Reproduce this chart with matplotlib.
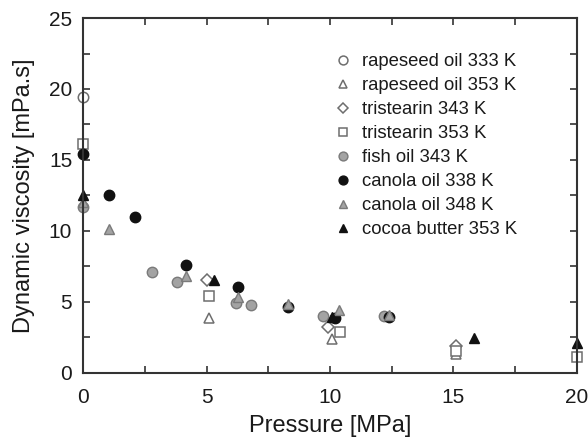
import matplotlib
matplotlib.use("Agg")
import matplotlib.pyplot as plt
from matplotlib.ticker import MultipleLocator

plt.rcParams['font.family'] = ['Liberation Sans', 'DejaVu Sans']

# Data (pressure MPa, viscosity mPa.s)
rape333_x = [0.0]
rape333_y = [19.4]
rape353_x = [5.1, 10.1, 15.1]
rape353_y = [3.85, 2.35, 1.35]
tri343_x = [5.0, 9.9, 15.1]
tri343_y = [6.5, 3.2, 1.9]
tri353_x = [0.0, 5.1, 10.4, 15.1, 20.0]
tri353_y = [16.1, 5.4, 2.85, 1.55, 1.1]
fish343_x = [0.0, 2.8, 3.8, 6.2, 6.8, 9.7, 12.2]
fish343_y = [11.65, 7.1, 6.4, 4.9, 4.75, 4.0, 4.0]
can338_x = [0.0, 1.05, 2.1, 4.15, 6.25, 8.3, 10.2, 12.4]
can338_y = [15.45, 12.55, 10.95, 7.6, 6.05, 4.6, 3.85, 3.9]
can348_x = [0.0, 1.05, 4.15, 6.25, 8.3, 10.35, 12.4]
can348_y = [12.0, 10.15, 6.85, 5.3, 4.85, 4.4, 4.05]
cocoa353_x = [0.0, 5.3, 10.1, 15.85, 20.0]
cocoa353_y = [12.55, 6.55, 3.9, 2.45, 2.1]

labels = ['rapeseed oil 333 K', 'rapeseed oil 353 K', 'tristearin 343 K',
          'tristearin 353 K', 'fish oil 343 K', 'canola oil 338 K',
          'canola oil 348 K', 'cocoa butter 353 K']

fig = plt.figure(figsize=(5.88, 4.40), dpi=100)
ax = fig.add_axes([0.1417, 0.153, 0.8391, 0.806])

openc = dict(mfc='white', mec='#6e6e6e', mew=1.1)
grayc = dict(mfc='#a3a3a3', mec='#7a7a7a', mew=1.0)
blackc = dict(mfc='#111111', mec='#111111', mew=1.0)
ms = 7.5

series = [
    (rape333_x, rape333_y, 'o', openc, ms),
    (rape353_x, rape353_y, '^', openc, ms),
    (tri343_x, tri343_y, 'D', openc, ms * 0.75),
    (tri353_x, tri353_y, 's', openc, ms * 0.9),
    (fish343_x, fish343_y, 'o', grayc, ms),
    (can338_x, can338_y, 'o', blackc, ms),
    (can348_x, can348_y, '^', grayc, ms),
    (cocoa353_x, cocoa353_y, '^', blackc, ms),
]
for (x, y, m, st, s), lab in zip(series, labels):
    ax.plot(x, y, linestyle='none', marker=m, ms=s, label=lab, clip_on=False, **st)

ax.set_xlim(0, 20)
ax.set_ylim(0, 25)
ax.xaxis.set_major_locator(MultipleLocator(5))
ax.xaxis.set_minor_locator(MultipleLocator(2.5))
ax.yaxis.set_major_locator(MultipleLocator(5))
ax.yaxis.set_minor_locator(MultipleLocator(2.5))
ax.tick_params(which='both', direction='in', top=True, right=True,
               length=5, width=1.2, color='#333333')
ax.tick_params(which='major', labelsize=15, labelcolor='#1a1a1a')
ax.tick_params(axis='x', which='major', pad=11)
ax.tick_params(axis='y', which='major', pad=8)
for sp in ax.spines.values():
    sp.set_linewidth(1.5)
    sp.set_color('#333333')

ax.set_xlabel('Pressure [MPa]', fontsize=17, color='#1a1a1a', labelpad=6)
ax.set_ylabel('Dynamic viscosity [mPa.s]', fontsize=17, color='#1a1a1a', labelpad=10)

leg = ax.legend(loc='upper left', bbox_to_anchor=(334 / 588, 1 - 53 / 440),
                bbox_transform=fig.transFigure, frameon=False,
                fontsize=13.3, handlelength=1.0, handletextpad=0.5,
                labelspacing=0.38, borderpad=0, borderaxespad=0,
                markerscale=0.85)
for t in leg.get_texts():
    t.set_color('#1a1a1a')

fig.savefig('out.png', dpi=100)
